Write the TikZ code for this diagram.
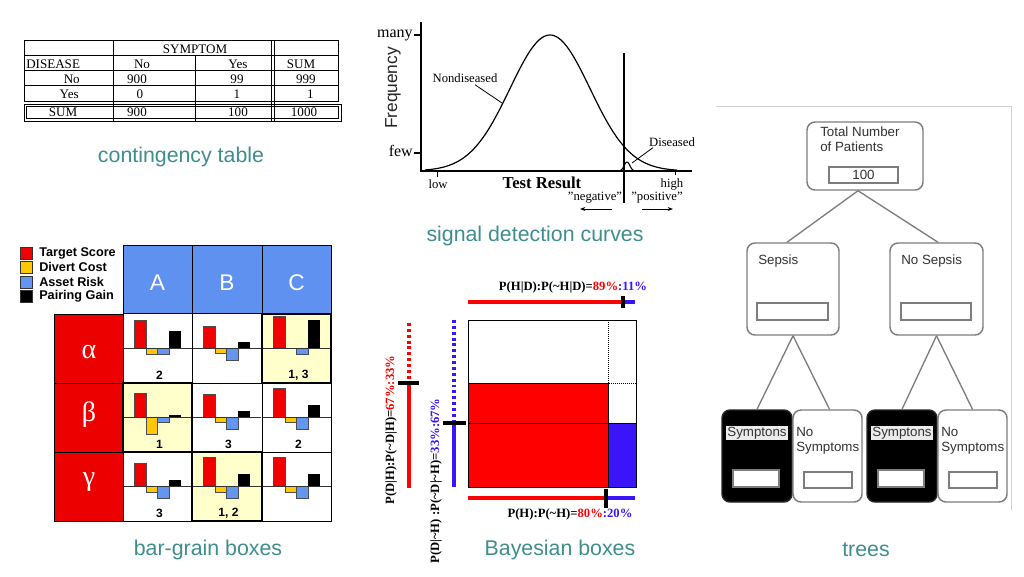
\documentclass[tikz,border=0pt]{standalone}
\usepackage{fontspec}
\setmainfont{Liberation Serif}
\setsansfont{Liberation Sans}
\usetikzlibrary{arrows.meta,calc}
\definecolor{captal}{RGB}{62,142,142}
\definecolor{bgred}{RGB}{236,0,0}
\definecolor{hdblue}{RGB}{95,145,240}
\definecolor{barred}{RGB}{240,0,0}
\definecolor{baryel}{RGB}{255,200,0}
\definecolor{barblue}{RGB}{100,150,240}
\definecolor{hilite}{RGB}{255,255,204}
\definecolor{bayred}{RGB}{255,0,0}
\definecolor{bayblue}{RGB}{60,20,250}
\definecolor{treegray}{RGB}{125,125,125}
\definecolor{treetext}{RGB}{50,50,50}
\newcommand\bgcell[8]{%
  \fill[barred,draw=black!70,line width=0.3pt] (#1+11.5,#2+34) rectangle (#1+23,#2+34-#3);
  \ifdim#4pt>0pt \fill[baryel,draw=black!70,line width=0.3pt] (#1+23,#2+34) rectangle (#1+34.5,#2+34+#4);\fi
  \fill[barblue,draw=black!70,line width=0.3pt] (#1+34.5,#2+34) rectangle (#1+46,#2+34+#5);
  \fill[black] (#1+46,#2+34) rectangle (#1+57.5,#2+34-#6);
  \draw[black!80,line width=0.4pt] (#1,#2+34) -- (#1+69,#2+34);
  \node[bglab] (#8) at (#1+36.5,#2+61) {#7};
}
\begin{document}
\begin{tikzpicture}[x=0.75pt,y=-0.75pt,
  capt/.style={text=captal,font=\sffamily\fontsize{16}{18}\selectfont,inner sep=0},
  ctab/.style={font=\fontsize{9.8}{11}\selectfont,inner sep=0,anchor=base},
  tline/.style={line width=0.6pt},
  sdl/.style={font=\fontsize{9.5}{11}\selectfont,inner sep=0},
  bglab/.style={font=\sffamily\bfseries\fontsize{9}{10}\selectfont,inner sep=0},
  legt/.style={font=\sffamily\bfseries\fontsize{9.5}{11}\selectfont,inner sep=0,anchor=west},
  hdr/.style={font=\sffamily\fontsize{17}{19}\selectfont,text=white,inner sep=0},
  grk/.style={font=\fontsize{21}{23}\selectfont,text=white,inner sep=0},
  bgline/.style={line width=0.5pt,black},
  hibox/.style={line width=2.2pt,black},
  bayl/.style={font=\bfseries\fontsize{9.5}{11}\selectfont,inner sep=0},
  baybar/.style={line width=2.7pt},
  baydot/.style={line width=2.7pt,dash pattern=on 2.2pt off 2.2pt},
  baytick/.style={line width=3.6pt,black},
  tbox/.style={draw=treegray,line width=1.1pt,rounded corners=6pt,inner sep=0,fill=white},
  ibox/.style={draw=treegray,line width=0.9pt,inner sep=0,fill=white,text=treetext,font=\sffamily\fontsize{10}{11}\selectfont},
  ttext/.style={text=treetext,font=\sffamily\fontsize{10}{11}\selectfont,inner sep=0,align=left},
  tcon/.style={draw=treegray,line width=1pt}
]
\useasboundingbox[fill=white] (0,0) rectangle (1024,576);

% ---------- captions
\node[capt] (cap1) at (181,157) {contingency table};
\node[capt] (cap2) at (535,236) {signal detection curves};
\node[capt] (cap3) at (208,550) {bar-grain boxes};
\node[capt] (cap4) at (560,550) {Bayesian boxes};
\node[capt] (cap5) at (866,550) {trees};

% ---------- contingency table
\draw[tline] (24,40) rectangle (338,101);
\draw[tline] (24,55.5) -- (338,55.5);
\draw[tline] (24,70) -- (338,70);
\draw[tline] (24,85.5) -- (338,85.5);
\draw[tline] (24,104) rectangle (341,121);
\draw[tline] (26.5,106.5) rectangle (338.5,118.5);
\draw[tline] (113,40) -- (113,121);
\draw[tline] (195,55.5) -- (195,121);
\draw[tline] (271,40) -- (271,121);
\draw[tline] (274,40) -- (274,121);
\node[ctab] (symp) at (195,53) {SYMPTOM};
\node[ctab,anchor=base west] (dis) at (26,68) {DISEASE};
\node[ctab] (hno) at (142,68) {No};
\node[ctab] (hyes) at (238,68) {Yes};
\node[ctab] (hsum) at (301,68) {SUM};
\node[ctab,anchor=base east] (rno) at (80,83) {No};
\node[ctab] (c11) at (137,83) {900};
\node[ctab] (c12) at (237,83) {99};
\node[ctab,anchor=base east] (c13) at (316,83) {999};
\node[ctab,anchor=base east] (ryes) at (79,98.5) {Yes};
\node[ctab] (c21) at (140,98.5) {0};
\node[ctab] (c22) at (237,98.5) {1};
\node[ctab,anchor=base east] (c23) at (314,98.5) {1};
\node[ctab] (rsum) at (63,116) {SUM};
\node[ctab] (c31) at (137,116) {900};
\node[ctab] (c32) at (238,116) {100};
\node[ctab] (c33) at (304,116) {1000};

% ---------- signal detection curves
\draw[line width=1.5pt] (421,22) -- (421,171) -- (692,171);
\draw[line width=0.8pt] (414,35) -- (421,35);
\draw[line width=0.8pt] (414,153) -- (421,153);
\draw[line width=0.7pt] (437,171) -- (437,177);
\draw[line width=0.7pt] (675,171) -- (675,175);
\node[font=\fontsize{12}{13}\selectfont,inner sep=0,anchor=east] (many) at (413,35) {many};
\node[font=\fontsize{12}{13}\selectfont,inner sep=0,anchor=east] (few) at (413,151) {few};
\node[font=\sffamily\fontsize{13}{14}\selectfont,inner sep=0,rotate=90,text=black!85] (freq) at (393,88) {Frequency};
\draw[line width=0.9pt] plot[domain=425:677,samples=120] (\x,{171-136*exp(-((\x-550)^2)/3200)});
\draw[line width=0.8pt] plot[domain=618:637,samples=40] (\x,{171-9*exp(-((\x-627)^2)/16)});
\draw[line width=1.6pt] (624,53) -- (624,203);
\node[sdl] (nondis) at (465,78) {Nondiseased};
\coordinate (nondisend) at (502,103);
\draw[line width=0.6pt] (nondis.south) ++(10,2) -- (nondisend);
\node[sdl] (dis2) at (672,142) {Diseased};
\coordinate (disend) at (632,163);
\draw[line width=0.6pt] (dis2.south west) ++(4,1) -- (disend);
\node[font=\bfseries\fontsize{12.5}{14}\selectfont,inner sep=0] (tr) at (542,183) {Test Result};
\node[sdl] (low) at (438,184) {low};
\node[sdl] (high) at (672,184) {high};
\node[sdl] (neg) at (595,198) {\symbol{34}negative\symbol{34}};
\node[sdl] (pos) at (657,198) {\symbol{34}positive\symbol{34}};
\coordinate (na1) at (612,209); \coordinate (na2) at (580,209);
\coordinate (pa1) at (642,209); \coordinate (pa2) at (673,209);
\draw[line width=0.6pt,-{Stealth[length=4pt,width=3pt]}] (na1) -- (na2);
\draw[line width=0.6pt,-{Stealth[length=4pt,width=3pt]}] (pa1) -- (pa2);

% ---------- bar-grain boxes
\foreach \yy/\cc/\tt [count=\i] in {247/barred/Target Score,261/baryel/Divert Cost,276/barblue/Asset Risk,290/black/Pairing Gain}{
  \fill[\cc,draw=black!80,line width=0.4pt] (20,\yy) rectangle (32,\yy+12);
  \node[legt] (leg\i) at (39,\yy+6) {\tt};
}
\fill[hdblue] (123,245) rectangle (331,313);
\fill[bgred] (54,314) rectangle (123,521);
\fill[hilite] (262,314) rectangle (331,383);
\fill[hilite] (123,383) rectangle (192,452);
\fill[hilite] (192,452) rectangle (262,521);
\bgcell{123}{314}{28}{6}{6}{17}{2}{lAa}
\bgcell{192}{314}{22}{5}{12}{6}{}{lBa}
\bgcell{262}{314}{32}{0}{6}{28}{1, 3}{lCa}
\bgcell{123}{383}{24}{17}{5}{2}{1}{lAb}
\bgcell{192}{383}{23}{5}{12}{6}{3}{lBb}
\bgcell{262}{383}{29}{5}{12}{12}{2}{lCb}
\bgcell{123}{452}{23}{6}{12}{6}{3}{lAc}
\bgcell{192}{452}{29}{6}{12}{12}{1, 2}{lBc}
\bgcell{262}{452}{29}{6}{12}{12}{}{lCc}
\draw[bgline] (123,245) rectangle (331,521);
\draw[bgline] (54,314) rectangle (123,521);
\draw[bgline] (54,383) -- (331,383);
\draw[bgline] (54,452) -- (331,452);
\draw[bgline] (123,313.5) -- (331,313.5);
\draw[bgline] (192,245) -- (192,521);
\draw[bgline] (262,245) -- (262,521);
\draw[hibox] (262,314) rectangle (331,383);
\draw[hibox] (123,383) rectangle (192,452);
\draw[hibox] (192,452) rectangle (262,521);
\node[hdr] (hA) at (157.5,283) {A};
\node[hdr] (hB) at (227,283) {B};
\node[hdr] (hC) at (296.5,283) {C};
\node[grk] (ga) at (89,352) {α};
\node[grk] (gb) at (89,415) {β};
\node[grk] (gg) at (89,482) {γ};

% ---------- Bayesian boxes
\fill[bayred] (468,383) rectangle (608,487);
\fill[bayblue] (608,423) rectangle (636,487);
\draw[line width=0.6pt] (468,320) rectangle (636,487);
\draw[line width=0.6pt] (468,383) -- (608,383);
\draw[line width=0.6pt] (468,423) -- (636,423);
\draw[line width=0.6pt] (608,383) -- (608,487);
\draw[line width=0.5pt,densely dotted] (608,320) -- (608,383) -- (636,383);
% top bar
\draw[baybar,bayred] (468,302) -- (623,302);
\draw[baybar,bayblue] (623,302) -- (635,302);
\draw[baytick] (623,296) -- (623,308);
\node[bayl] (topl) at (573,287) {P(H|D):P(\textasciitilde H|D)=\textcolor{bayred}{89\%}\textcolor{bayblue}{:11\%}};
% bottom bar
\draw[baybar,bayred] (468,498) -- (606,498);
\draw[baybar,bayblue] (606,498) -- (635,498);
\draw[baytick] (606,489) -- (606,508);
\node[bayl] (botl) at (570,514) {P(H):P(\textasciitilde H)=\textcolor{bayred}{80\%}\textcolor{bayblue}{:20\%}};
% left bars
\draw[baydot,bayred] (409,323) -- (409,383);
\draw[baybar,bayred] (409,383) -- (409,488);
\draw[baytick] (398,383) -- (419,383);
\node[bayl,rotate=90] (lefl1) at (391,430) {P(D|H):P(\textasciitilde D|H)=\textcolor{bayred}{67\%:33\%}};
\draw[baydot,bayblue] (454,320) -- (454,423);
\draw[baybar,bayblue] (454,423) -- (454,487);
\draw[baytick] (443,423) -- (466,423);
\node[bayl,rotate=90] (lefl2) at (436,481) {P(D|\textasciitilde H) :P(\textasciitilde D|\textasciitilde H)=\textcolor{bayblue}{33\%:67\%}};

% ---------- trees
\draw[black!18,line width=0.6pt] (716,106) -- (1011,106) -- (1011,510);
\node[tbox,minimum width=87pt,minimum height=51pt] (root) at (865,156) {};
\node[tbox,minimum width=69pt,minimum height=69pt] (sep) at (793,289) {};
\node[tbox,minimum width=69.75pt,minimum height=69pt] (nsep) at (936.5,289) {};
\node[tbox,minimum width=52.5pt,minimum height=69pt,fill=black,draw=black!85] (l1) at (757,456) {};
\node[tbox,minimum width=51.75pt,minimum height=69pt] (l2) at (827.5,456) {};
\node[tbox,minimum width=52.5pt,minimum height=69pt,fill=black,draw=black!85] (l3) at (902,456) {};
\node[tbox,minimum width=51.75pt,minimum height=69pt] (l4) at (972.5,456) {};
\draw[tcon] ($(root.south)+(-7,0)$) -- ($(sep.north)+(-6,0)$);
\draw[tcon] ($(root.south)+(-7,0)$) -- ($(nsep.north)+(1.5,0)$);
\draw[tcon] (sep.south) -- (l1.north);
\draw[tcon] (sep.south) -- ($(l2.north)+(2,0)$);
\draw[tcon] (nsep.south) -- (l3.north);
\draw[tcon] (nsep.south) -- (l4.north);
\node[ttext,anchor=north west] (roott) at (820,127) {Total Number\\of Patients};
\node[ibox,minimum width=51.75pt,minimum height=12pt] (rootv) at (863.5,175) {100};
\node[ttext,anchor=base west] (sept) at (758,264) {Sepsis};
\node[ibox,minimum width=53.25pt,minimum height=12.75pt] (sepv) at (792.5,311.5) {};
\node[ttext,anchor=base west] (nsept) at (901,264) {No Sepsis};
\node[ibox,minimum width=52.5pt,minimum height=12.75pt] (nsepv) at (936,311.5) {};
\node[ttext,fill=black!8,inner sep=1pt] (l1t) at (757,433) {Symptons};
\node[ibox,minimum width=34.5pt,minimum height=12.75pt] (l1v) at (756,478.5) {};
\node[ttext,anchor=north west] (l2t) at (796,427) {No\\Symptoms};
\node[ibox,minimum width=36pt,minimum height=12pt] (l2v) at (828,480) {};
\node[ttext,fill=black!8,inner sep=1pt] (l3t) at (902,433) {Symptons};
\node[ibox,minimum width=34.5pt,minimum height=12.75pt] (l3v) at (901,478.5) {};
\node[ttext,anchor=north west] (l4t) at (941,427) {No\\Symptoms};
\node[ibox,minimum width=36pt,minimum height=12pt] (l4v) at (973,480) {};
\end{tikzpicture}
\end{document}
